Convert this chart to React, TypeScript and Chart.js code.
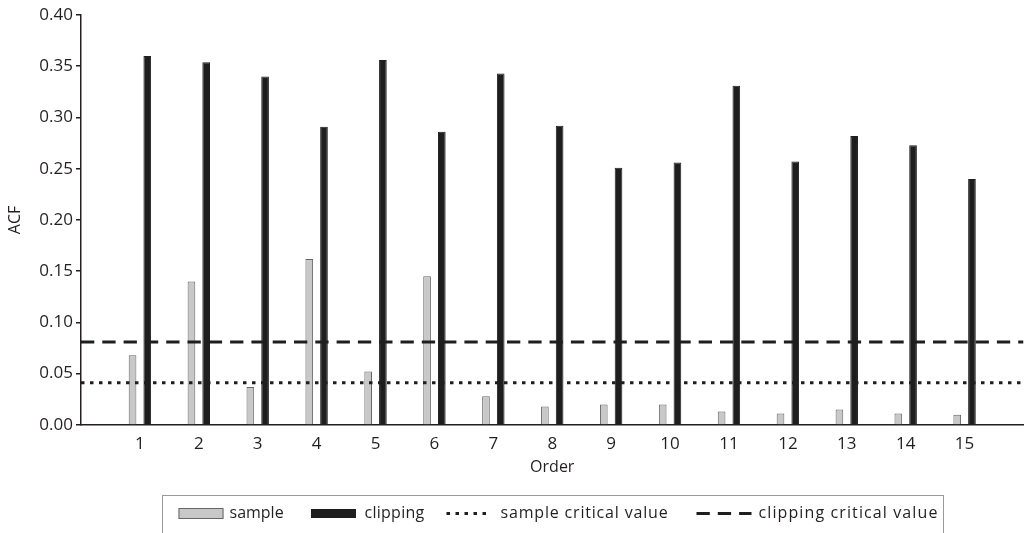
import React, { useEffect, useRef } from "react";
import { Chart, registerables } from "chart.js";

Chart.register(...registerables);

const orders = [1, 2, 3, 4, 5, 6, 7, 8, 9, 10, 11, 12, 13, 14, 15];
const sampleACF = [0.068, 0.140, 0.037, 0.162, 0.052, 0.145, 0.028, 0.018, 0.020, 0.020, 0.013, 0.011, 0.015, 0.011, 0.010];
const clippingACF = [0.360, 0.354, 0.340, 0.291, 0.356, 0.286, 0.343, 0.292, 0.251, 0.256, 0.331, 0.257, 0.282, 0.273, 0.240];
const sampleCritical = 0.041;
const clippingCritical = 0.081;
const yTicks = [0, 0.05, 0.1, 0.15, 0.2, 0.25, 0.3, 0.35, 0.4];
const seriesLabels = ["sample", "clipping", "sample critical value", "clipping critical value"];

const INK = "#231f20";
const FONT = '"Open Sans", sans-serif';

// legend layout (relative to the legend frame)
const legendFrameWidth = 781;
const legendMarkerX = [16, 148.5, 284, 534];
const legendMarkerW = [45, 45, 45, 55];
const legendTextX = [67, 202, 338, 596];
const legendTextW = [54, 60, 168, 180];

const boxLegend = {
  id: "boxLegend",
  afterDraw(chart: any) {
    const ctx = chart.ctx as any;
    const area = chart.chartArea;
    const ds = chart.data.datasets;
    ctx.save();
    ctx.font = `16px ${FONT}`;
    const cx = (area.left + area.right) / 2;
    const boxLeft = Math.round(cx - legendFrameWidth / 2) + 0.5;
    const boxTop = chart.height - 37.5;
    const cy = chart.height - 19.5;
    ctx.strokeStyle = "#9a9a9a";
    ctx.lineWidth = 1;
    ctx.strokeRect(boxLeft, boxTop, legendFrameWidth, 80);
    ds.forEach((d: any, i: number) => {
      const x = boxLeft + legendMarkerX[i];
      const mw = legendMarkerW[i];
      if (d.type === "line") {
        ctx.save();
        ctx.strokeStyle = d.borderColor;
        ctx.lineWidth = d.borderWidth;
        ctx.setLineDash(d.borderDash);
        ctx.beginPath();
        ctx.moveTo(x, cy);
        ctx.lineTo(x + mw, cy);
        ctx.stroke();
        ctx.restore();
      } else {
        const h = i === 0 ? 11 : 9;
        ctx.fillStyle = d.backgroundColor;
        ctx.fillRect(x, cy - h / 2, mw, h);
        ctx.strokeStyle = d.borderColor;
        ctx.lineWidth = 1;
        ctx.strokeRect(x + 0.5, cy - h / 2 + 0.5, mw - 1, h - 1);
      }
      ctx.letterSpacing = "0px";
      const natural = ctx.measureText(d.label).width;
      const extra = (legendTextW[i] - natural) / Math.max(1, d.label.length);
      ctx.letterSpacing = `${Math.max(0, extra).toFixed(2)}px`;
      ctx.fillStyle = INK;
      ctx.textBaseline = "middle";
      ctx.textAlign = "left";
      ctx.fillText(d.label, boxLeft + legendTextX[i], cy);
    });
    ctx.restore();
  },
};

export default function App() {
  const ref = useRef<HTMLCanvasElement | null>(null);
  useEffect(() => {
    document.body.style.margin = "0";
    if (!ref.current) return;
    const chart = new Chart(ref.current, {
      type: "bar",
      data: {
        datasets: [
          {
            type: "bar",
            label: seriesLabels[0],
            data: orders.map((o, i) => ({ x: o, y: sampleACF[i] })),
            backgroundColor: "#c8c8c8",
            borderColor: "#666666",
            borderWidth: 1,
            categoryPercentage: 0.5,
            barPercentage: 0.52,
            order: 2,
          } as any,
          {
            type: "bar",
            label: seriesLabels[1],
            data: orders.map((o, i) => ({ x: o, y: clippingACF[i] })),
            backgroundColor: "#1e1e1e",
            borderColor: "#1e1e1e",
            borderWidth: 1,
            categoryPercentage: 0.5,
            barPercentage: 0.52,
            order: 2,
          } as any,
          {
            type: "line",
            label: seriesLabels[2],
            data: [
              { x: 0, y: sampleCritical },
              { x: 16, y: sampleCritical },
            ],
            borderColor: "#1e1e1e",
            borderWidth: 3,
            borderDash: [3.5, 5.5],
            pointRadius: 0,
            fill: false,
            order: 1,
          } as any,
          {
            type: "line",
            label: seriesLabels[3],
            data: [
              { x: 0, y: clippingCritical },
              { x: 16, y: clippingCritical },
            ],
            borderColor: "#1e1e1e",
            borderWidth: 3,
            borderDash: [13.3, 8],
            pointRadius: 0,
            fill: false,
            order: 1,
          } as any,
        ],
      },
      options: {
        responsive: false,
        animation: false,
        layout: { padding: { top: 15, right: 3.5, left: 0, bottom: 52 } },
        plugins: {
          legend: { display: false },
          tooltip: { enabled: false },
        },
        scales: {
          x: {
            type: "linear",
            min: 0,
            max: 16,
            offset: false,
            afterFit: (scale: any) => {
              scale.paddingRight = 0;
              scale.paddingLeft = 0;
            },
            grid: { display: false, drawTicks: false },
            border: { display: true, color: INK, width: 1.5 },
            ticks: {
              stepSize: 1,
              padding: 13,
              color: INK,
              font: { family: FONT, size: 17, lineHeight: 0.76 },
              callback: (v: any) => (v >= 1 && v <= 15 ? String(v) : ""),
            },
            title: {
              display: true,
              text: "Order",
              color: INK,
              font: { family: FONT, size: 16 },
              padding: { top: -6, bottom: 4 },
            },
          },
          y: {
            min: 0,
            max: 0.4,
            afterBuildTicks: (scale: any) => {
              scale.ticks = yTicks.map((v) => ({ value: v }));
            },
            afterFit: (scale: any) => {
              scale.width = 81;
            },
            grid: { display: true, drawOnChartArea: false, drawTicks: true, tickLength: 5, color: INK, lineWidth: 1.5 },
            border: { display: true, color: INK, width: 1.5 },
            ticks: {
              padding: 3,
              color: INK,
              font: { family: FONT, size: 17 },
              callback: (v: any) => Number(v).toFixed(2),
            },
            title: {
              display: true,
              text: "ACF",
              color: INK,
              font: { family: FONT, size: 16 },
              padding: { top: 6, bottom: 4 },
            },
          },
        },
      },
      plugins: [boxLegend],
    });
    return () => chart.destroy();
  }, []);
  return (
    <div style={{ width: 1027, height: 533 }}>
      <canvas ref={ref} width={1027} height={533} />
    </div>
  );
}
